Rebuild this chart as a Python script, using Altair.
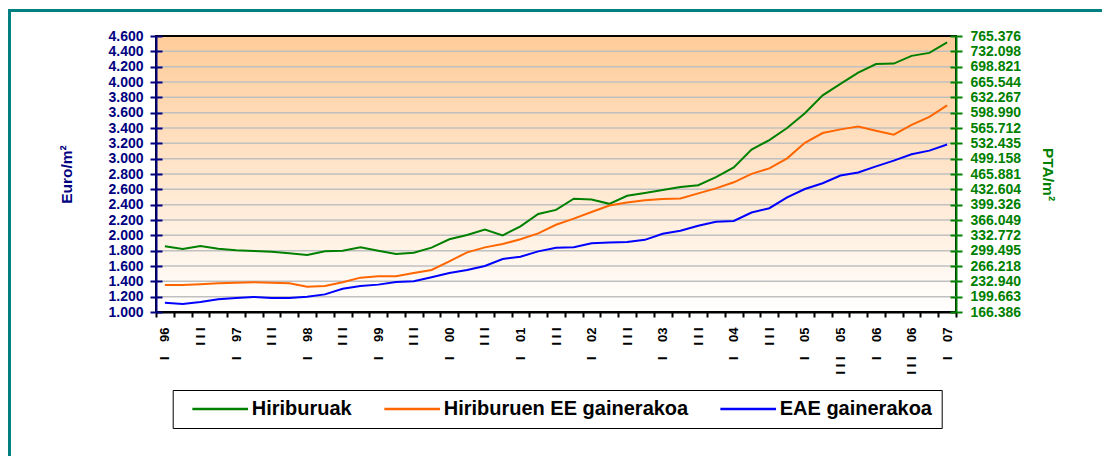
import altair as alt
import pandas as pd

periods = [
    "I 96", "II 96", "III 96", "IV 96", "I 97", "II 97", "III 97", "IV 97",
    "I 98", "II 98", "III 98", "IV 98", "I 99", "II 99", "III 99", "IV 99",
    "I 00", "II 00", "III 00", "IV 00", "I 01", "II 01", "III 01", "IV 01",
    "I 02", "II 02", "III 02", "IV 02", "I 03", "II 03", "III 03", "IV 03",
    "I 04", "II 04", "III 04", "IV 04", "I 05", "II 05", "III 05", "IV 05",
    "I 06", "II 06", "III 06", "IV 06", "I 07",
]
tick_text = [
    "I 96", "", "III", "", "I 97", "", "III", "", "I 98", "", "III", "",
    "I 99", "", "III", "", "I 00", "", "III", "", "I 01", "", "III", "",
    "I 02", "", "III", "", "I 03", "", "III", "", "I 04", "", "III", "",
    "I 05", "", "III 05", "", "I 06", "", "III 06", "", "I 07",
]

hiriburuak = [1857, 1822, 1861, 1826, 1804, 1796, 1787, 1765, 1743, 1791, 1800,
              1843, 1800, 1757, 1774, 1839, 1948, 2004, 2074, 2000, 2117, 2278,
              2332, 2477, 2468, 2411, 2516, 2552, 2591, 2631, 2653, 2758, 2886,
              3119, 3242, 3400, 3593, 3826, 3976, 4121, 4235, 4240, 4341, 4380, 4516]
hiriburuen_ee = [1352, 1352, 1361, 1374, 1383, 1387, 1383, 1374, 1330, 1339, 1387,
                 1448, 1465, 1465, 1509, 1548, 1661, 1778, 1843, 1887, 1948, 2026,
                 2138, 2218, 2305, 2389, 2429, 2459, 2473, 2481, 2547, 2613, 2692,
                 2802, 2873, 3004, 3207, 3334, 3382, 3418, 3365, 3312, 3440, 3545, 3695]
eae = [1122, 1104, 1130, 1165, 1183, 1196, 1183, 1183, 1200, 1230, 1304,
       1339, 1357, 1391, 1400, 1452, 1509, 1548, 1600, 1691, 1722, 1791,
       1839, 1844, 1897, 1905, 1914, 1941, 2020, 2059, 2125, 2178, 2187,
       2297, 2354, 2495, 2604, 2679, 2780, 2820, 2899, 2974, 3057, 3105, 3185]

series_names = ["Hiriburuak", "Hiriburuen EE gainerakoa", "EAE gainerakoa"]
series_colors = ["#008000", "#FF6600", "#0000FF"]
y_ticks = [1000, 1200, 1400, 1600, 1800, 2000, 2200, 2400, 2600, 2800, 3000,
           3200, 3400, 3600, 3800, 4000, 4200, 4400, 4600]
PTA = 166.386

rows = []
for name, vals in zip(series_names, [hiriburuak, hiriburuen_ee, eae]):
    for i, (p, v) in enumerate(zip(periods, vals)):
        rows.append({"serie": name, "i": i, "periodo": p, "value": v})
df = pd.DataFrame(rows)

W, H = 800, 276
FONT = "Liberation Sans"
NAVY = "#000080"
GREEN = "#008000"
NB = "\u00a0"

xscale = alt.Scale(domain=[-0.5, 44.5], nice=False, zero=False)
yscale = alt.Scale(domain=[1000, 4600], nice=False, zero=False)


def spaced(t):
    # the source draws these labels with wide letter spacing
    if not t:
        return t
    parts = t.split(" ")
    head = NB.join(parts[0])
    return head + (NB * 4 + parts[1] if len(parts) > 1 else "")


js_arr = "[" + ",".join("'" + spaced(t) + "'" for t in tick_text) + "]"
xaxis = alt.Axis(
    orient="bottom",
    values=[k - 0.5 for k in range(46)],
    labelExpr=js_arr + "[round(datum.value + 0.5)] || ''",
    labelOffset=W / 45 / 2, labelAngle=-90, labelOverlap=False, labelFlush=False,
    labelFont=FONT, labelFontSize=13, labelFontWeight="bold", labelColor="black",
    labelPadding=10, tickSize=5, tickWidth=2, tickColor="black",
    domainColor="black", domainWidth=2, grid=False, title=None, zindex=1,
)

left_axis = alt.Axis(
    orient="left", values=y_ticks,
    labelExpr="replace(format(datum.value, ','), ',', '.')",
    labelFont=FONT, labelFontSize=14, labelFontWeight="bold", labelColor=NAVY,
    labelPadding=7, tickSize=6, tickWidth=2, tickColor=NAVY,
    domainColor=NAVY, domainWidth=2, grid=False,
    title="Euro/m²", titleFont=FONT, titleFontSize=15.5, titleFontWeight="bold",
    titleColor=NAVY, titleX=-90, titleY=H / 2, titleAngle=270,
    titleAlign="center", titleBaseline="middle", zindex=1,
)
right_axis = alt.Axis(
    orient="right", values=y_ticks,
    labelExpr="replace(format(datum.value * %s, ',.0f'), ',', '.')" % PTA,
    labelFont=FONT, labelFontSize=14, labelFontWeight="bold", labelColor=GREEN,
    labelPadding=8, tickSize=6, tickWidth=2, tickColor=GREEN,
    domainColor=GREEN, domainWidth=2, grid=False,
    title="PTA/m²", titleFont=FONT, titleFontSize=15.5, titleFontWeight="bold",
    titleColor=GREEN, titleX=91, titleY=H / 2, titleAngle=90,
    titleAlign="center", titleBaseline="middle", zindex=1,
)

one = pd.DataFrame({"a": [0]})

bg = alt.Chart(one).mark_rect(
    fill={"gradient": "linear", "x1": 0, "y1": 0, "x2": 0, "y2": 1,
          "stops": [{"offset": 0, "color": "#FFCC99"},
                    {"offset": 1, "color": "#FFFFFF"}]},
    stroke="black", strokeWidth=2,
).encode(
    x=alt.X(datum=-0.5, scale=xscale, axis=None),
    x2=alt.X2(datum=44.5),
    y=alt.Y(datum=1000, scale=yscale, axis=None),
    y2=alt.Y2(datum=4600),
)

grid = alt.Chart(pd.DataFrame({"v": y_ticks[1:-1]})).mark_rule(
    color="#C0C0C0", strokeWidth=1.5
).encode(y=alt.Y("v:Q", scale=yscale, axis=None))

lines = alt.Chart(df).mark_line(strokeWidth=2).encode(
    x=alt.X("i:Q", scale=xscale, axis=xaxis),
    y=alt.Y("value:Q", scale=yscale, axis=left_axis),
    color=alt.Color(
        "serie:N",
        scale=alt.Scale(domain=series_names, range=series_colors),
        legend=alt.Legend(
            orient="none", legendX=16.7, legendY=354, direction="horizontal",
            title=None, symbolType="stroke", symbolSize=3102, symbolStrokeWidth=2.5,
            clipHeight=20,
            labelFont=FONT, labelFontSize=20, labelFontWeight="bold",
            labelColor="black", strokeColor="black", padding=9,
            columnPadding=21, symbolOffset=9, labelOffset=2, labelLimit=500,
        ),
    ),
    order="i:Q",
)


def ghost(axis):
    return alt.Chart(df).mark_line(strokeOpacity=0).encode(
        x=alt.X("i:Q", scale=xscale, axis=None),
        y=alt.Y("value:Q", scale=yscale, axis=axis),
        detail="serie:N",
    )


right = ghost(right_axis)
inner_left = ghost(alt.Axis(orient="left", offset=-6, values=y_ticks, labels=False,
                            domain=False, grid=False, tickSize=6, tickWidth=2,
                            tickColor=NAVY, title=None, zindex=1))
inner_right = ghost(alt.Axis(orient="right", offset=-6, values=y_ticks, labels=False,
                             domain=False, grid=False, tickSize=6, tickWidth=2,
                             tickColor=GREEN, title=None, zindex=1))

frame = alt.Chart(one).mark_rect(
    fill="#FFFFFF", fillOpacity=0, stroke="#008080", strokeWidth=3
).encode(
    x=alt.value(-146.5), x2=alt.value(W + 300),
    y=alt.value(-25.5), y2=alt.value(H + 300),
)

chart = alt.layer(bg, grid, lines, right, inner_left, inner_right, frame).resolve_axis(
    x="independent", y="independent"
).properties(
    width=W, height=H,
    autosize=alt.AutoSizeParams(type="none"),
    padding={"left": 148, "top": 28, "right": 146, "bottom": 144},
).configure_view(stroke=None).configure_legend(strokeWidth=2).configure(font=FONT)

chart.save("out.html", embed_options={"renderer": "svg", "actions": False})
